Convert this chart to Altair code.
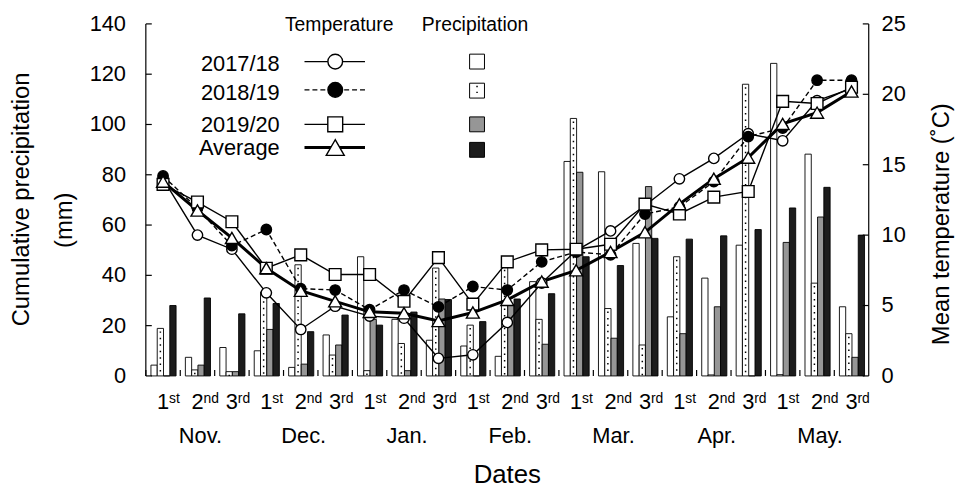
import altair as alt
import pandas as pd

# ---------------- data ----------------
month_names = ["Nov", "Dec", "Jan", "Feb", "Mar", "Apr", "May"]
month_labels = ["Nov.", "Dec.", "Jan.", "Feb.", "Mar.", "Apr.", "May."]
dekad_digits = ["1", "2", "3"]
dekad_suffixes = ["st", "nd", "rd"]
dekads = [f"{m}-{d}" for m in month_names for d in dekad_digits]

series_names = ["2017/18", "2018/19", "2019/20", "Average"]

precip_1718 = [4.3, 7.4, 11.3, 10.0, 3.4, 16.3, 47.4, 22.5, 14.2, 11.9, 7.8, 37.5,
               85.3, 81.2, 52.7, 23.5, 38.9, 52.0, 124.3, 88.2, 27.5]
precip_1819 = [18.9, 2.4, 1.7, 33.4, 44.2, 8.3, 2.1, 12.9, 42.9, 20.2, 43.4, 22.5,
               102.4, 26.8, 12.3, 47.4, 0.4, 116.0, 0.5, 36.9, 16.8]
precip_1920 = [0.0, 4.3, 1.7, 18.5, 4.7, 12.3, 22.5, 2.1, 30.6, 0.0, 28.4, 12.6,
               81.0, 15.0, 75.3, 16.8, 27.5, 0.0, 53.1, 63.2, 7.4]
precip_avg = [28.0, 31.0, 24.7, 28.8, 17.6, 24.2, 20.2, 25.4, 30.4, 21.6, 30.6, 32.7,
              47.4, 43.9, 54.7, 54.4, 55.7, 58.2, 66.8, 75.0, 56.0]

temp_1718 = [14.0, 10.0, 9.0, 5.9, 3.3, 4.95, 4.25, 4.1, 1.25, 1.5, 3.8, 6.6,
             8.9, 10.3, 12.1, 14.0, 15.45, 17.2, 16.7, 19.55, 20.4]
temp_1819 = [14.2, 11.9, 9.25, 10.4, 6.2, 6.1, 4.7, 6.1, 4.9, 6.35, 6.1, 8.1,
             8.8, 8.6, 11.5, 12.0, 13.8, 17.0, 17.6, 21.0, 21.0]
temp_1920 = [13.6, 12.35, 10.95, 7.65, 8.6, 7.2, 7.2, 5.3, 8.4, 5.1, 8.1, 8.95,
             9.0, 9.35, 12.2, 11.5, 12.7, 13.1, 19.5, 19.35, 20.5]
temp_avg = [13.8, 11.75, 9.8, 7.65, 6.05, 5.3, 4.55, 4.45, 3.9, 4.5, 5.4, 6.7,
            7.5, 8.8, 10.2, 12.2, 14.0, 15.5, 17.9, 18.7, 20.2]

mm_ticks = [0, 20, 40, 60, 80, 100, 120, 140]
temp_ticks = [0, 5, 10, 15, 20, 25]

# ---------------- layout / style constants ----------------
W, H = 729, 355
FONT = "Liberation Sans, Arial, Helvetica, sans-serif"
OFF_PAD_OUTER = 0.74
OFF_ALIGN = 0.55
# centre of the 2nd sub-band (dotted bars), as a fraction of the dekad band
_step = 1.0 / (4 + 2 * OFF_PAD_OUTER)
DOT_POS = (1 - 4 * _step) * OFF_ALIGN + 1.5 * _step

x_scale = alt.Scale(domain=dekads, paddingInner=0, paddingOuter=0)
mm_scale = alt.Scale(domain=[0, 140], nice=False, zero=True)
t_scale = alt.Scale(domain=[0, 25], nice=False, zero=True)


def xfield(band=0.5):
    return alt.X("dk:N", sort=dekads, scale=x_scale, bandPosition=band, axis=None)


# ---------------- precipitation (left axis) ----------------
precip_all = [precip_1718, precip_1819, precip_1920, precip_avg]
bar_df = pd.DataFrame([
    {"dk": dekads[i], "series": s, "mm": vals[i]}
    for s, vals in zip(series_names, precip_all) for i in range(len(dekads))
])

bars = alt.Chart(bar_df).mark_bar(stroke="black", strokeWidth=0.9).encode(
    x=alt.X("dk:N", sort=dekads, scale=x_scale,
            axis=alt.Axis(labels=False, ticks=False, title=None, domainColor="black",
                          domainWidth=1.2, grid=False)),
    xOffset=alt.XOffset("series:N", sort=series_names,
                        scale=alt.Scale(domain=series_names, paddingInner=0,
                                        paddingOuter=OFF_PAD_OUTER, align=OFF_ALIGN)),
    y=alt.Y("mm:Q", scale=mm_scale, axis=None),
    fill=alt.Fill("series:N", sort=series_names,
                  scale=alt.Scale(domain=series_names,
                                  range=["white", "white", "#969696", "#1c1c1c"]),
                  legend=None),
)

dots = alt.Chart(bar_df[bar_df["series"] == "2018/19"]).mark_rule(
    color="black", strokeWidth=1.5, strokeDash=[1.5, 5], strokeDashOffset=-3
).encode(
    x=xfield(DOT_POS),
    y=alt.Y("mm:Q", scale=mm_scale, axis=None),
    y2=alt.datum(0),
)

mm_df = pd.DataFrame({"mm": mm_ticks})
left_ticks = alt.Chart(mm_df).mark_rule(color="black", strokeWidth=1.2).encode(
    y=alt.Y("mm:Q", scale=mm_scale, axis=None), x=alt.value(0), x2=alt.value(6))
left_labels = alt.Chart(mm_df).mark_text(
    font=FONT, fontSize=22, align="right", baseline="middle", color="black"
).encode(y=alt.Y("mm:Q", scale=mm_scale, axis=None), x=alt.value(-20), text="mm:Q")
left_domain = alt.Chart(mm_df.head(1)).mark_rule(color="black", strokeWidth=1.2).encode(
    x=alt.value(0), y=alt.value(0), y2=alt.value(H))

bottom_ticks = alt.Chart(pd.DataFrame({"dk": dekads})).mark_rule(
    color="black", strokeWidth=1.2
).encode(x=xfield(0), y=alt.value(H), y2=alt.value(H - 6))

lab_df = pd.DataFrame({
    "dk": dekads,
    "digit": dekad_digits * len(month_names),
    "suf": dekad_suffixes * len(month_names),
})
digit_text = alt.Chart(lab_df).mark_text(
    font=FONT, fontSize=22, align="center", baseline="alphabetic", color="black"
).encode(x=xfield(0.5), y=alt.value(H + 33), text="digit:N")
suffix_text = alt.Chart(lab_df).mark_text(
    font=FONT, fontSize=14, align="left", baseline="alphabetic", color="black", dx=6
).encode(x=xfield(0.5), y=alt.value(H + 27), text="suf:N")

mon_df = pd.DataFrame({"dk": dekads[1::3], "month": month_labels})
month_text = alt.Chart(mon_df).mark_text(
    font=FONT, fontSize=22, align="center", baseline="alphabetic", color="black", dx=3
).encode(x=xfield(0.5), y=alt.value(H + 68), text="month:N")

layer_precip = alt.layer(bars, dots, left_ticks, left_labels, left_domain, bottom_ticks,
                         digit_text, suffix_text, month_text)

# ---------------- temperature (right axis) ----------------
temp_all = [temp_1718, temp_1819, temp_1920, temp_avg]
line_styles = {
    "2017/18": dict(strokeWidth=1.4),
    "2018/19": dict(strokeWidth=1.4, strokeDash=[5, 3]),
    "2019/20": dict(strokeWidth=1.4),
    "Average": dict(strokeWidth=3),
}
point_styles = {
    "2017/18": dict(shape="circle", fill="white", size=110),
    "2018/19": dict(shape="circle", fill="black", size=110),
    "2019/20": dict(shape="square", fill="white", size=140),
    "Average": dict(shape="triangle-up", fill="white", size=170),
}

temp_layers = []
point_layers = []
for s, vals in zip(series_names, temp_all):
    df = pd.DataFrame({"dk": dekads, "t": vals})
    temp_layers.append(
        alt.Chart(df).mark_line(color="black", **line_styles[s]).encode(
            x=xfield(0.5), y=alt.Y("t:Q", scale=t_scale, axis=None))
    )
    point_layers.append(
        alt.Chart(df).mark_point(filled=True, stroke="black", strokeWidth=1.4,
                                 opacity=1, **point_styles[s]).encode(
            x=xfield(0.5), y=alt.Y("t:Q", scale=t_scale, axis=None))
    )

t_df = pd.DataFrame({"t": temp_ticks})
right_ticks = alt.Chart(t_df).mark_rule(color="black", strokeWidth=1.2).encode(
    y=alt.Y("t:Q", scale=t_scale, axis=None), x=alt.value(W - 6), x2=alt.value(W))
right_labels = alt.Chart(t_df).mark_text(
    font=FONT, fontSize=22, align="left", baseline="middle", color="black"
).encode(y=alt.Y("t:Q", scale=t_scale, axis=None), x=alt.value(W + 13), text="t:Q")
right_domain = alt.Chart(t_df.head(1)).mark_rule(color="black", strokeWidth=1.2).encode(
    x=alt.value(W), y=alt.value(0), y2=alt.value(H))

layer_temp = alt.layer(*temp_layers, *point_layers, right_ticks, right_labels, right_domain)

# ---------------- titles and legend ----------------
def label(txt, x, y, size, **kw):
    return alt.Chart(pd.DataFrame({"label": [txt]})).mark_text(
        font=FONT, fontSize=size, color="black", **kw
    ).encode(text="label:N", x=alt.value(x), y=alt.value(y))


titles = [
    label("Cumulative precipitation", -125, 177, 24, angle=270, align="center", baseline="middle"),
    label("(mm)", -81, 198, 24, angle=270, align="center", baseline="middle"),
    label("Mean temperature (˚C)", 803, 202, 24, angle=270, align="center", baseline="middle"),
    label("Dates", W / 2, H + 108, 26, align="center", baseline="alphabetic"),
    label("Temperature", 195, 1, 19.5, align="center", baseline="middle"),
    label("Precipitation", 332, 1, 19.5, align="center", baseline="middle"),
]

LEG_TEXT_Y = [40, 69.5, 102, 125]
LEG_MARK_Y = [38, 66.5, 101.3, 124.7]
LEG_BOX_Y = [38, 67.3, 101.3, 127]
LEG_LABEL_X = 135
LEG_LINE_X = (160, 221)
LEG_MARK_X = 191
LEG_BOX_X = 334
legend_point_sizes = {"2017/18": 220, "2018/19": 220, "2019/20": 225, "Average": 330}
box_fill = {"2017/18": "white", "2018/19": "white", "2019/20": "#969696", "Average": "#1c1c1c"}

legend = []
for i, s in enumerate(series_names):
    one = pd.DataFrame({"label": [s]})
    legend.append(label(s, LEG_LABEL_X, LEG_TEXT_Y[i], 22, align="right", baseline="middle"))
    legend.append(
        alt.Chart(one).mark_rule(color="black", **line_styles[s]).encode(
            x=alt.value(LEG_LINE_X[0]), x2=alt.value(LEG_LINE_X[1]), y=alt.value(LEG_MARK_Y[i]))
    )
    ps = dict(point_styles[s])
    ps["size"] = legend_point_sizes[s]
    legend.append(
        alt.Chart(one).mark_point(filled=True, stroke="black", strokeWidth=1.4,
                                  opacity=1, **ps).encode(
            x=alt.value(LEG_MARK_X), y=alt.value(LEG_MARK_Y[i]))
    )
    legend.append(
        alt.Chart(one).mark_point(shape="square", filled=True, fill=box_fill[s],
                                  stroke="black", strokeWidth=1, size=225, opacity=1).encode(
            x=alt.value(LEG_BOX_X), y=alt.value(LEG_BOX_Y[i]))
    )
    if s == "2018/19":
        legend.append(
            alt.Chart(one).mark_rule(color="black", strokeWidth=1.5,
                                     strokeDash=[1.5, 4.5]).encode(
                x=alt.value(LEG_BOX_X), y=alt.value(LEG_BOX_Y[i] - 5),
                y2=alt.value(LEG_BOX_Y[i] + 6))
        )

layer_annot = alt.layer(*titles, *legend)

TOTAL_W, TOTAL_H = 955, 482
chart = alt.layer(layer_precip, layer_temp, layer_annot).resolve_scale(
    y="independent"
).properties(
    width=W,
    height=H,
    autosize=alt.AutoSizeParams(type="none"),
    padding={"left": 139, "top": 14, "right": TOTAL_W - 139 - W, "bottom": TOTAL_H - 14 - H},
).configure_view(stroke=None)

chart.save("out.html", embed_options={"renderer": "svg", "actions": False})
